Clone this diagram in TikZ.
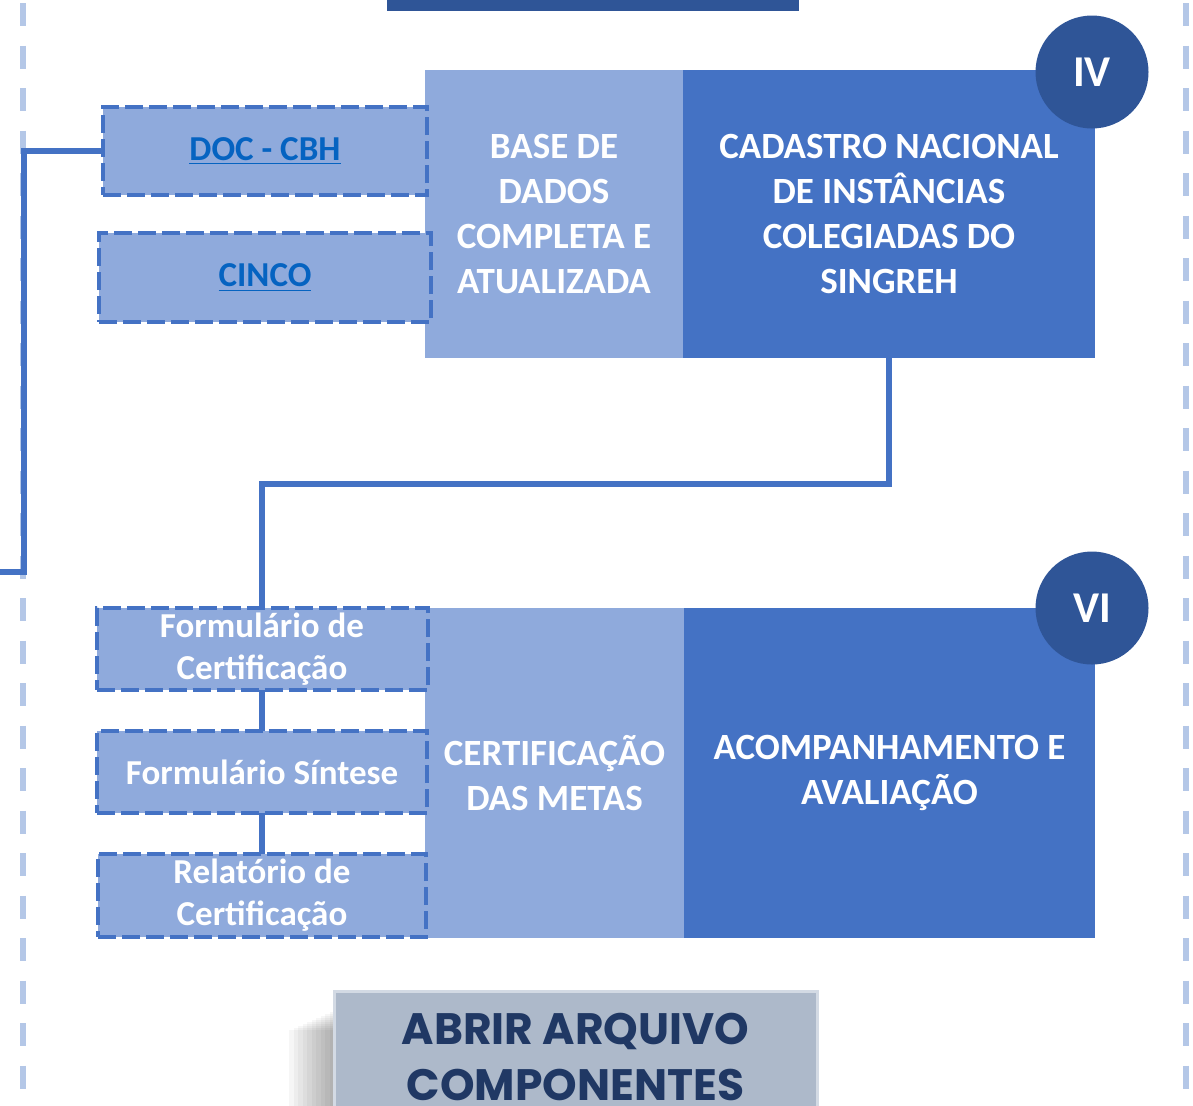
\documentclass[tikz,border=0pt]{standalone}
\usepackage{fontspec}
\setmainfont{Carlito}
\newfontfamily\btnfont{Poppins}
\usetikzlibrary{positioning}
\definecolor{paleblue}{HTML}{8FAADC}
\definecolor{midblue}{HTML}{4472C4}
\definecolor{darkblue}{HTML}{2F5597}
\definecolor{guideblue}{HTML}{B4C7E7}
\definecolor{linkblue}{HTML}{0563C1}
\definecolor{btngray}{HTML}{ADB9CA}
\definecolor{btnedge}{HTML}{D3DAE4}
\definecolor{navy}{HTML}{203864}

\tikzset{
    bigbox/.style={inner sep=0pt, outer sep=0pt, align=center, text=white,
        font=\fontsize{18.5}{22.5}\selectfont\bfseries},
    lightbox/.style={bigbox, fill=paleblue},
    darkbox/.style={bigbox, fill=midblue},
    dashbox/.style={draw=midblue, line width=2pt, dash pattern=on 9pt off 3pt,
        fill=paleblue, inner sep=0pt, outer sep=0pt, align=center, text=white,
        font=\fontsize{17.5}{21}\selectfont\bfseries},
    tag/.style={circle, fill=darkblue, text=white, minimum size=56.5pt, inner sep=0pt,
        font=\fontsize{22}{26}\selectfont\bfseries},
    link/.style={midblue, line width=3pt},
    guide/.style={guideblue, line width=3pt, dash pattern=on 11.5pt off 9.75pt},
    button/.style={fill=btngray, draw=btnedge, line width=1.5pt, minimum width=241.5pt,
        inner ysep=11pt, align=center, text=navy,
        font={\btnfont\fontsize{22}{28}\selectfont\bfseries}},
}

\begin{document}
\begin{tikzpicture}[x=0.5pt, y=-0.5pt]
    \useasboundingbox (0,0) rectangle (1193,1105);
    \clip (0,0) rectangle (1193,1105);

    % Page guides
    \draw[guide, dash phase=19.75pt] (23,0) -- (23,1105);
    \draw[guide, dash phase=19.75pt] (1186,0) -- (1186,1105);
    \fill[darkblue] (387,0) rectangle (799,11);

    % Step IV
    \node[lightbox, minimum width=129pt, minimum height=144pt, anchor=north west] (base) at (425,70)
        {BASE DE\\DADOS\\COMPLETA E\\ATUALIZADA};
    \node[darkbox, minimum width=206pt, minimum height=144pt, anchor=north west] (cadastro) at (683,70)
        {CADASTRO NACIONAL\\DE INSTÂNCIAS\\COLEGIADAS DO\\SINGREH};
    \node[dashbox, text=linkblue, minimum width=162pt, minimum height=44pt] (doc) at (265,151)
        {\underline{DOC - CBH}};
    \node[dashbox, text=linkblue, minimum width=166pt, minimum height=44.5pt] (cinco) at (265,277.5)
        {\underline{CINCO}};
    \node[tag] (iv) at (1092,72) {IV};

    % Step VI
    \node[lightbox, minimum width=129.5pt, minimum height=165pt, anchor=north west] (certif) at (425,608)
        {CERTIFICAÇÃO\\DAS METAS};
    \node[darkbox, minimum width=205.5pt, minimum height=165pt, anchor=north west] (acomp) at (684,608)
        {ACOMPANHAMENTO E\\AVALIAÇÃO};
    \node[dashbox, minimum width=165.5pt, minimum height=41pt] (form) at (262,649)
        {Formulário de\\Certificação};
    \node[dashbox, minimum width=165pt, minimum height=41pt] (sintese) at (262,772)
        {Formulário Síntese};
    \node[dashbox, minimum width=164pt, minimum height=41.5pt] (relat) at (262,895.5)
        {Relatório de\\Certificação};
    \node[tag] (vi) at (1092,608) {VI};

    % Connectors
    \coordinate (turnL) at (24,572);
    \coordinate (exitL) at (0,572);
    \draw[link] (doc.west) -| (turnL) -- (exitL);
    \draw[link] (cadastro.south) -- ++(0,126) -| (form.north);
    \draw[link] (form.south) -- (sintese.north);
    \draw[link] (sintese.south) -- (relat.north);

    % Button with shadow
    \foreach \i in {1,...,10}
        \fill[black, opacity=0.035] (334-4.5*\i,1010+2*\i) rectangle (700,1110);
    \node[button, anchor=north] (abrir) at (575.5,990) {ABRIR ARQUIVO\\COMPONENTES};
\end{tikzpicture}
\end{document}
